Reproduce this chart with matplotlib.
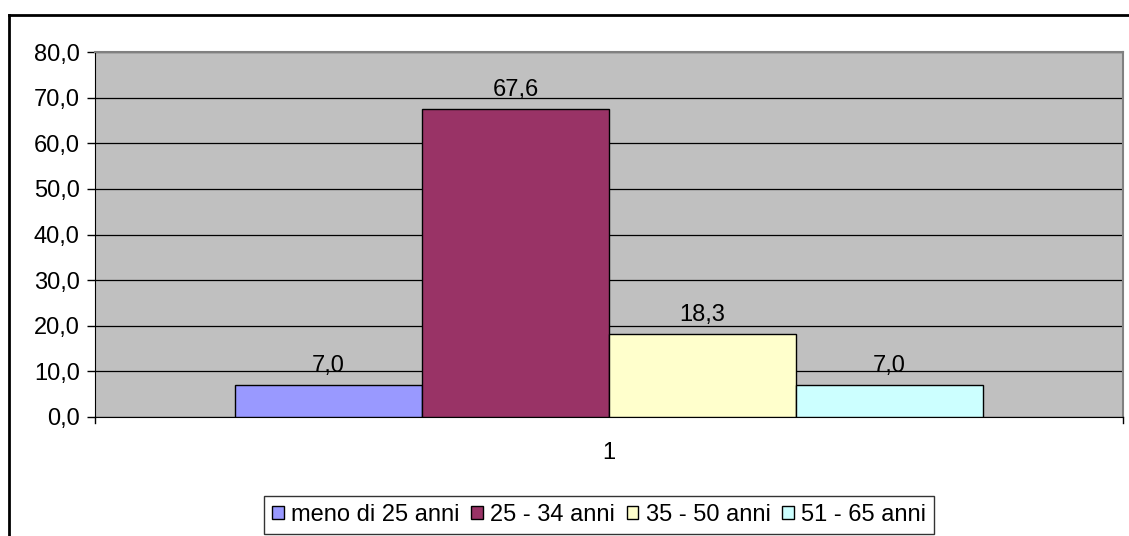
import matplotlib
matplotlib.use("Agg")
import matplotlib.pyplot as plt
from matplotlib.lines import Line2D
import numpy as np

plt.rcParams['font.family'] = ['Liberation Sans', 'DejaVu Sans']

categories = ["1"]
series_names = ["meno di 25 anni", "25 - 34 anni", "35 - 50 anni", "51 - 65 anni"]
values = [7.0, 67.6, 18.3, 7.0]
colors = ["#9999FF", "#993366", "#FFFFCC", "#CCFFFF"]
yticks = [0, 10, 20, 30, 40, 50, 60, 70, 80]

FS = 17
W, H = 1129, 536
fig = plt.figure(figsize=(W / 100, H / 100), dpi=100)
fig.patch.set_facecolor("white")

# outer chart frame (left and top visible)
fig.add_artist(Line2D([8.5 / W, 8.5 / W], [0, 1 - 14.5 / H], transform=fig.transFigure, color="black", lw=2))
fig.add_artist(Line2D([8.5 / W, 1.0], [1 - 14.5 / H, 1 - 14.5 / H], transform=fig.transFigure, color="black", lw=2))

left, right, top, bottom = 95, 1123, 52, 417
ax = fig.add_axes([left / W, 1 - bottom / H, (right - left) / W, (bottom - top) / H])
ax.set_facecolor("#C0C0C0")

bw = 187 / (right - left)
n = len(values)
x0 = 1.0
for i, (v, c, name) in enumerate(zip(values, colors, series_names)):
    xc = x0 + (i - (n - 1) / 2) * bw
    ax.bar(xc, v, width=bw, color=c, edgecolor="black", linewidth=1, label=name, zorder=3)
    ax.text(xc, v + 1.7, f"{v:.1f}".replace(".", ","), ha="center", va="bottom", fontsize=FS, zorder=4)

ax.set_xlim(0.5, 1.5)
ax.set_ylim(0, 80)
ax.set_yticks(yticks)
ax.set_yticklabels([f"{t:.1f}".replace(".", ",") for t in yticks], fontsize=FS)
ax.yaxis.grid(True, color="black", linewidth=0.9, zorder=1)
ax.set_axisbelow(True)

ax.set_xticks([1.0])
ax.set_xticklabels(categories, fontsize=FS)
ax.tick_params(axis="x", length=0, pad=18)
ax.tick_params(axis="y", length=6, width=1, direction="out", pad=5)
# category boundary ticks on x axis
for xb in [0.5, 1.5]:
    ax.plot([xb, xb], [0, -1.3], color="black", lw=1, clip_on=False, zorder=5)

ax.spines["left"].set_color("black")
ax.spines["bottom"].set_color("black")
ax.spines["top"].set_color("#808080")
ax.spines["right"].set_color("#808080")
ax.spines["top"].set_linewidth(1.5)
ax.spines["right"].set_linewidth(1.5)

leg = fig.legend(loc="center", bbox_to_anchor=((261 + 937) / 2 / W, 1 - 515 / H), ncol=4,
                 fontsize=FS, frameon=True, fancybox=False, edgecolor="black",
                 handlelength=0.5, handleheight=0.5, handletextpad=0.3, columnspacing=0.5,
                 borderpad=0.35, borderaxespad=0)
leg.get_frame().set_linewidth(1)

fig.savefig("out.png", dpi=100)
